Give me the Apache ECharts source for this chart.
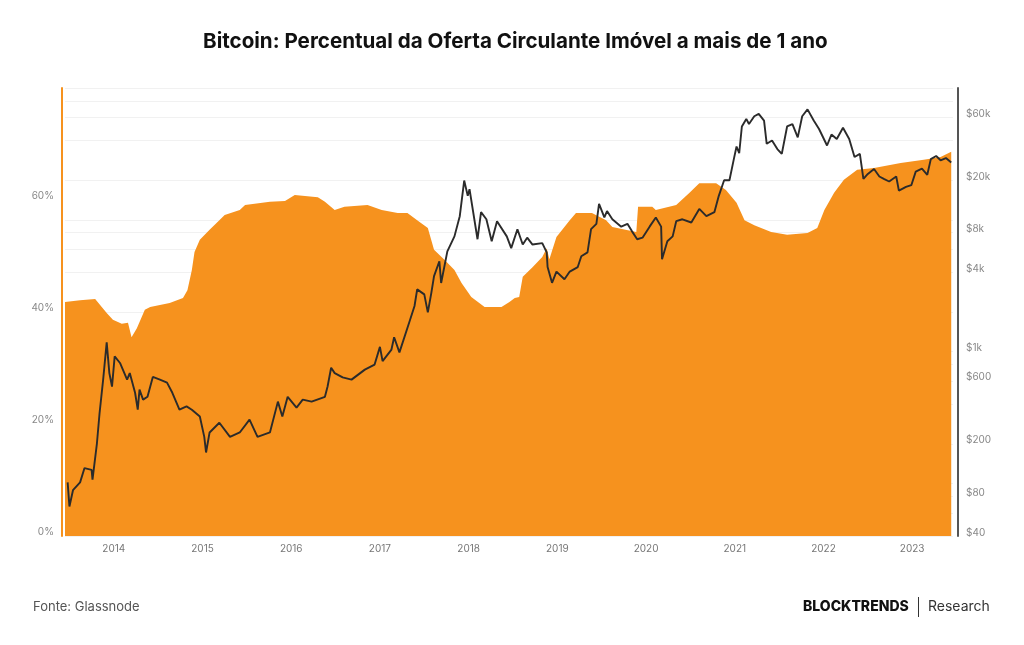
<!DOCTYPE html>
<html>
<head>
<meta charset="utf-8">
<title>Bitcoin: Percentual da Oferta Circulante Imóvel a mais de 1 ano</title>
<script src="https://cdn.jsdelivr.net/npm/echarts@6/dist/echarts.min.js"></script>
<style>
  html, body { margin: 0; padding: 0; background: #fff; }
  #main { width: 1024px; height: 645px; }
</style>
</head>
<body>
<div id="main"></div>
<script>
  // % da oferta parada há mais de 1 ano (ano decimal -> %)
  var supplyYears = [2013.45, 2013.62, 2013.79, 2013.81, 2013.92, 2013.99, 2014.09, 2014.16, 2014.20, 2014.26,
    2014.35, 2014.41, 2014.63, 2014.78, 2014.83, 2014.88, 2014.91, 2014.97, 2015.08, 2015.19,
    2015.25, 2015.42, 2015.48, 2015.76, 2015.93, 2016.04, 2016.30, 2016.38, 2016.49, 2016.60,
    2016.86, 2017.02, 2017.20, 2017.31, 2017.42, 2017.54, 2017.61, 2017.73, 2017.84, 2017.92,
    2018.03, 2018.18, 2018.37, 2018.46, 2018.52, 2018.57, 2018.61, 2018.72, 2018.83, 2018.88,
    2018.91, 2018.99, 2019.14, 2019.21, 2019.39, 2019.55, 2019.62, 2019.89, 2019.91, 2020.07,
    2020.11, 2020.34, 2020.49, 2020.60, 2020.79, 2020.90, 2021.02, 2021.11, 2021.22, 2021.41,
    2021.59, 2021.82, 2021.93, 2022.01, 2022.12, 2022.23, 2022.38, 2022.57, 2022.87, 2023.13,
    2023.32, 2023.44];
  var supplyPct = [41.8, 42.1, 42.3, 42.1, 39.8, 38.6, 37.9, 38.1, 35.5, 37.1,
    40.4, 40.9, 41.6, 42.5, 43.9, 47.5, 50.7, 52.9, 54.7, 56.4,
    57.3, 58.2, 59.1, 59.7, 59.8, 60.9, 60.5, 59.7, 58.2, 58.8,
    59.1, 58.2, 57.7, 57.7, 56.4, 55.0, 51.1, 49.3, 47.5, 45.2,
    42.7, 40.9, 40.9, 41.8, 42.5, 42.7, 46.3, 48.0, 49.8, 51.4,
    49.4, 53.4, 56.4, 57.7, 57.7, 56.4, 55.2, 54.3, 58.8, 58.8,
    58.2, 59.1, 61.3, 63.0, 63.0, 61.8, 59.5, 56.4, 55.5, 54.3,
    53.8, 54.1, 55.0, 58.2, 61.3, 63.6, 65.4, 65.7, 66.6, 67.2,
    67.7, 68.6];

  // preço do BTC em USD (ano decimal -> $)
  var priceYears = [2013.48, 2013.50, 2013.54, 2013.62, 2013.67, 2013.75, 2013.76, 2013.81, 2013.84, 2013.88,
    2013.92, 2013.95, 2013.98, 2014.01, 2014.07, 2014.15, 2014.18, 2014.24, 2014.27, 2014.29,
    2014.33, 2014.38, 2014.44, 2014.52, 2014.60, 2014.66, 2014.74, 2014.82, 2014.88, 2014.97,
    2015.02, 2015.04, 2015.08, 2015.19, 2015.31, 2015.42, 2015.53, 2015.62, 2015.76, 2015.85,
    2015.90, 2015.96, 2016.06, 2016.13, 2016.23, 2016.38, 2016.41, 2016.45, 2016.49, 2016.58,
    2016.68, 2016.83, 2016.94, 2017.00, 2017.03, 2017.13, 2017.16, 2017.22, 2017.33, 2017.39,
    2017.42, 2017.50, 2017.54, 2017.58, 2017.61, 2017.67, 2017.69, 2017.76, 2017.84, 2017.90,
    2017.95, 2017.99, 2018.01, 2018.10, 2018.14, 2018.20, 2018.26, 2018.32, 2018.43, 2018.48,
    2018.55, 2018.61, 2018.66, 2018.72, 2018.83, 2018.88, 2018.89, 2018.94, 2018.99, 2019.08,
    2019.14, 2019.23, 2019.27, 2019.34, 2019.38, 2019.44, 2019.47, 2019.53, 2019.56, 2019.62,
    2019.72, 2019.79, 2019.84, 2019.90, 2019.96, 2020.04, 2020.11, 2020.17, 2020.18, 2020.24,
    2020.30, 2020.34, 2020.41, 2020.51, 2020.60, 2020.68, 2020.77, 2020.82, 2020.88, 2020.94,
    2020.99, 2021.02, 2021.05, 2021.08, 2021.13, 2021.16, 2021.22, 2021.27, 2021.33, 2021.36,
    2021.42, 2021.48, 2021.53, 2021.59, 2021.65, 2021.71, 2021.76, 2021.82, 2021.89, 2021.95,
    2022.04, 2022.09, 2022.15, 2022.22, 2022.29, 2022.35, 2022.41, 2022.45, 2022.50, 2022.57,
    2022.63, 2022.68, 2022.74, 2022.82, 2022.85, 2022.93, 2022.99, 2023.04, 2023.11, 2023.17,
    2023.21, 2023.27, 2023.32, 2023.38, 2023.44];
  var priceUsd = [102, 67, 89, 102, 131, 127, 107, 202, 344, 614,
    1177, 688, 544, 921, 821, 614, 688, 488, 363, 515,
    433, 455, 644, 614, 583, 488, 363, 385, 363, 322,
    226, 172, 244, 289, 226, 244, 305, 226, 244, 418,
    322, 455, 377, 433, 418, 455, 544, 755, 688, 638,
    614, 731, 799, 1088, 849, 1038, 1288, 988, 1665, 2220,
    2969, 2720, 1987, 2808, 3741, 4851, 3319, 5772, 7493, 10656,
    19869, 15207, 17094, 7126, 11433, 10101, 6882, 9768, 7493, 6105,
    8492, 6494, 7326, 6494, 6660, 5661, 4385, 3330, 4052, 3541,
    4052, 4385, 5295, 5661, 8492, 9324, 13209, 10434, 11655, 10101,
    8880, 9324, 8214, 7126, 7326, 8880, 10434, 8880, 5017, 6882,
    7493, 9768, 10101, 9546, 12099, 10656, 11433, 15207, 19980, 19980,
    29000, 36000, 32000, 51060, 58275, 53280, 61050, 63600, 56610, 37740,
    39960, 34410, 31635, 51060, 53280, 42180, 61050, 68820, 56610, 48840,
    36630, 44400, 41070, 49950, 41070, 29970, 31635, 20424, 22311, 24309,
    21312, 20424, 19536, 21312, 16650, 17760, 18315, 23199, 24420, 21978,
    28860, 30525, 28305, 29415, 27195];

  var yearTicks = [2014, 2015, 2016, 2017, 2018, 2019, 2020, 2021, 2022, 2023];
  var priceLabelTicks = [40, 80, 200, 600, 1000, 4000, 8000, 20000, 60000];
  var priceGridTicks = [40, 60, 80, 100, 200, 400, 600, 800, 1000, 2000, 4000, 6000, 8000,
    10000, 20000, 40000, 60000, 80000, 100000];

  function zip(xs, ys) {
    var out = [];
    for (var i = 0; i < xs.length; i++) out.push([xs[i], ys[i]]);
    return out;
  }

  function fmtPrice(v) {
    if (v >= 1000) return '$' + Math.round(v / 1000) + 'k';
    return '$' + Math.round(v);
  }

  var chart = echarts.init(document.getElementById('main'));
  var fontFam = 'Inter, "Noto Sans", sans-serif';

  var option = {
    animation: false,
    backgroundColor: '#ffffff',
    textStyle: { fontFamily: fontFam },
    title: {
      text: 'Bitcoin: Percentual da Oferta Circulante Imóvel a mais de 1 ano',
      left: 198,
      top: 26,
      textStyle: { fontSize: 20.6, fontWeight: 700, color: '#111111', fontFamily: fontFam }
    },
    grid: { left: 65, right: 71, top: 88, bottom: 109 },
    xAxis: {
      type: 'value',
      min: 2013.45,
      max: 2023.46,
      axisLine: { show: false },
      axisTick: { show: false },
      splitLine: { show: false },
      axisLabel: {
        customValues: yearTicks,
        color: '#777777',
        fontSize: 10,
        margin: 8,
        formatter: function (v) { return String(v); }
      }
    },
    yAxis: [
      {
        type: 'value',
        min: 0,
        max: 80,
        interval: 20,
        offset: 3,
        axisLine: { show: true, lineStyle: { color: '#F6921E', width: 2 } },
        axisTick: { show: false },
        splitLine: { show: false },
        axisLabel: {
          color: '#888888',
          fontSize: 10,
          margin: 8,
          verticalAlign: 'bottom',
          lineHeight: 8,
          showMaxLabel: false,
          formatter: '{value}%'
        }
      },
      {
        type: 'log',
        logBase: 10,
        min: 40,
        max: 100000,
        position: 'right',
        offset: 5,
        axisLine: { show: true, lineStyle: { color: '#555555', width: 2 } },
        axisTick: { show: false, customValues: priceGridTicks },
        splitLine: { show: true, lineStyle: { color: '#f1f1f1', width: 1 } },
        axisLabel: {
          customValues: priceLabelTicks,
          color: '#888888',
          fontSize: 10,
          margin: 8,
          verticalAlign: 'bottom',
          lineHeight: 7,
          formatter: fmtPrice
        }
      }
    ],
    series: [
      {
        name: 'Oferta imóvel > 1 ano',
        type: 'line',
        yAxisIndex: 0,
        data: zip(supplyYears, supplyPct),
        showSymbol: false,
        lineStyle: { width: 0 },
        areaStyle: { color: '#F6921E', opacity: 1 },
        z: 2
      },
      {
        name: 'Preço BTC',
        type: 'line',
        yAxisIndex: 1,
        data: zip(priceYears, priceUsd),
        showSymbol: false,
        lineStyle: { color: '#2b2b2b', width: 1.9 },
        z: 3
      }
    ],
    graphic: [
      {
        type: 'text', left: 33, top: 601,
        style: { text: 'Fonte: Glassnode', fill: '#555555', font: '400 13px ' + fontFam }
      },
      {
        type: 'text', left: 803, top: 600,
        style: { text: 'BLOCKTRENDS', fill: '#111111', font: '800 14px ' + fontFam }
      },
      {
        type: 'rect', left: 918, top: 597,
        shape: { width: 1, height: 20 },
        style: { fill: '#333333' }
      },
      {
        type: 'text', left: 928, top: 600,
        style: { text: 'Research', fill: '#333333', font: '400 14px ' + fontFam }
      }
    ]
  };

  chart.setOption(option);
</script>
</body>
</html>
